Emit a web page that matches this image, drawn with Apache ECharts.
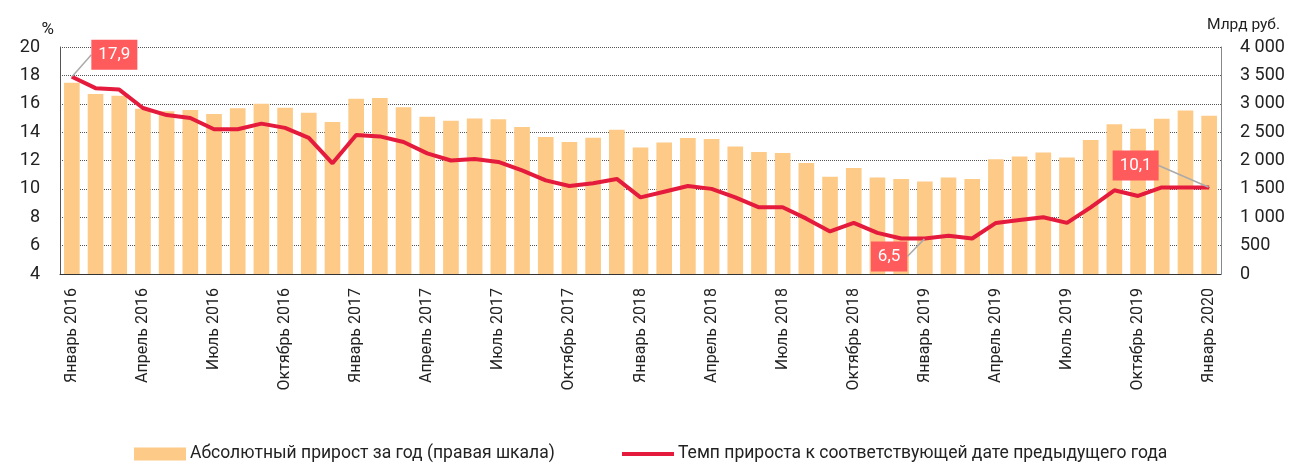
<!DOCTYPE html>
<html>
<head>
<meta charset="utf-8">
<script src="https://cdn.jsdelivr.net/npm/echarts@6/dist/echarts.min.js"></script>
<style>
    html, body { margin: 0; padding: 0; background: #fff; }
    #chart { width: 1290px; height: 464px; }
</style>
</head>
<body>
<div id="chart"></div>
<script>
// месяцы и годы для подписей оси
var months = ['Январь', 'Февраль', 'Март', 'Апрель', 'Май', 'Июнь',
              'Июль', 'Август', 'Сентябрь', 'Октябрь', 'Ноябрь', 'Декабрь'];
var years = [2016, 2017, 2018, 2019, 2020];

// абсолютный прирост за год, млрд руб. (правая шкала)
var absGrowth = [
    3370, 3170, 3140, 2910, 2870, 2890, 2820, 2920, 3000, 2930, 2840, 2680,
    3090, 3100, 2940, 2770, 2700, 2740, 2725, 2590, 2415, 2325, 2400, 2540,
    2230, 2315, 2395, 2380, 2245, 2150, 2130, 1955, 1715, 1870, 1700, 1675,
    1630, 1700, 1675, 2020, 2070, 2140, 2055, 2360, 2640, 2560, 2735, 2880,
    2790
];

// темп прироста к соответствующей дате предыдущего года, %
var growthRate = [
    17.9, 17.1, 17.0, 15.7, 15.2, 15.0, 14.2, 14.2, 14.6, 14.3, 13.6, 11.8,
    13.8, 13.7, 13.3, 12.5, 12.0, 12.1, 11.9, 11.3, 10.6, 10.2, 10.4, 10.7,
    9.4, 9.8, 10.2, 10.0, 9.4, 8.7, 8.7, 7.9, 7.0, 7.6, 6.9, 6.5,
    6.5, 6.7, 6.5, 7.6, 7.8, 8.0, 7.6, 8.7, 9.9, 9.5, 10.1, 10.1,
    10.1
];

// точки с выносками
var callouts = [0, 36, 48];

var barName = 'Абсолютный прирост за год (правая шкала)',
    lineName = 'Темп прироста к соответствующей дате предыдущего года';

var categories = [];
for (var i = 0; i < absGrowth.length; i++) {
    categories.push(months[i % 12] + ' ' + years[Math.floor(i / 12)]);
}

var font = 'Roboto, "Liberation Sans", sans-serif';

var lineData = growthRate.map(function (v, idx) {
    if (callouts.indexOf(idx) < 0) return v;
    return {
        value: v,
        label: {
            show: true,
            position: idx === 0 ? 'right' : 'left'
        }
    };
});

// сдвиг выносок относительно точки
var shifts = {
    0:  {dx: 14, dy: -22},
    36: {dx: -12, dy: 18},
    48: {dx: -45, dy: -22}
};

var chart = echarts.init(document.getElementById('chart'));

var option = {
    animation: false,
    textStyle: {fontFamily: font},
    grid: {left: 60, right: 69, top: 47, bottom: 190},
    legend: [
        {
            data: [barName],
            left: 134,
            top: 445,
            padding: 0,
            icon: 'rect',
            itemWidth: 52,
            itemHeight: 13,
            itemGap: 0,
            textStyle: {fontSize: 17.5, color: '#222', fontFamily: font, padding: [0, 0, 0, -1]}
        },
        {
            data: [lineName],
            left: 622,
            top: 445,
            padding: 0,
            icon: 'rect',
            itemWidth: 52,
            itemHeight: 4,
            itemGap: 0,
            textStyle: {fontSize: 17.5, color: '#222', fontFamily: font, padding: [0, 0, 0, -1]}
        }
    ],
    xAxis: {
        type: 'category',
        data: categories,
        boundaryGap: true,
        axisLine: {lineStyle: {color: '#333', width: 1}},
        axisTick: {interval: 2, length: 5, lineStyle: {color: '#333'}},
        axisLabel: {
            interval: 2,
            rotate: 90,
            margin: 14,
            fontSize: 16,
            color: '#222'
        }
    },
    yAxis: [
        {
            type: 'value',
            name: '%',
            nameLocation: 'end',
            nameGap: 2,
            nameTextStyle: {fontSize: 17, color: '#222', align: 'right', padding: [0, 6, 0, 0]},
            min: 4,
            max: 20,
            interval: 2,
            axisLine: {show: true, lineStyle: {color: '#555'}},
            axisTick: {show: false},
            axisLabel: {fontSize: 18, color: '#222', margin: 20},
            splitLine: {lineStyle: {color: '#555', type: 'dotted', width: 1}}
        },
        {
            type: 'value',
            name: 'Млрд руб.',
            nameLocation: 'end',
            nameGap: 14,
            nameTextStyle: {fontSize: 15.5, color: '#222', align: 'left', padding: [0, 0, 0, -14]},
            min: 0,
            max: 4000,
            interval: 500,
            axisLine: {show: true, lineStyle: {color: '#888'}},
            axisTick: {show: false},
            axisLabel: {
                fontSize: 18,
                color: '#222',
                margin: 19,
                formatter: function (v) {
                    return String(v).replace(/\B(?=(\d{3})+(?!\d))/g, ' ');
                }
            },
            splitLine: {show: false}
        }
    ],
    series: [
        {
            name: barName,
            type: 'bar',
            yAxisIndex: 1,
            data: absGrowth,
            barCategoryGap: '34%',
            itemStyle: {color: '#FDCA88'},
            z: 1
        },
        {
            name: lineName,
            type: 'line',
            yAxisIndex: 0,
            data: lineData,
            symbol: 'circle',
            symbolSize: 1,
            showSymbol: true,
            lineStyle: {color: '#E41B3C', width: 4},
            itemStyle: {color: '#E41B3C'},
            z: 3,
            label: {
                show: false,
                color: '#fff',
                fontSize: 17,
                backgroundColor: '#FF5A5C',
                padding: [7, 7, 6, 7],
                distance: 5,
                formatter: function (p) {
                    return String(p.value).replace('.', ',');
                }
            },
            labelLine: {
                show: true,
                lineStyle: {color: '#aaa', width: 1.5}
            },
            labelLayout: function (p) {
                var s = shifts[p.dataIndex];
                if (!s) return {};
                return {dx: s.dx, dy: s.dy};
            }
        }
    ]
};

chart.setOption(option);
</script>
</body>
</html>
